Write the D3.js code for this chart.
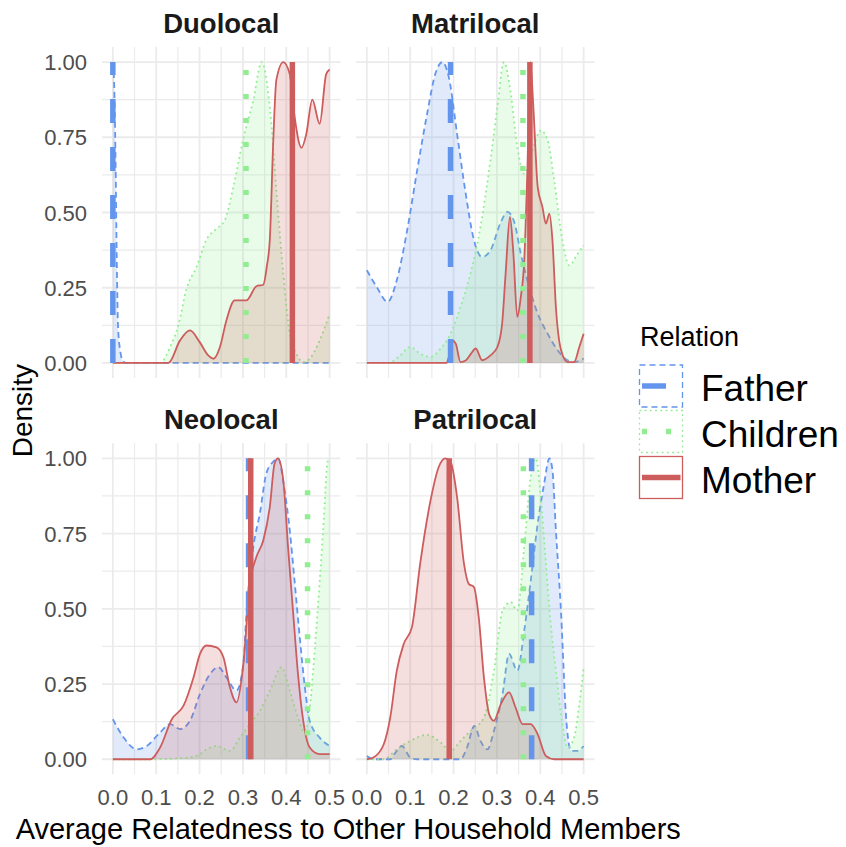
<!DOCTYPE html>
<html>
<head>
<meta charset="utf-8">
<script src="https://cdn.jsdelivr.net/npm/d3@7"></script>
<style>
  body { margin: 0; background: #fff; }
  svg { display: block; font-family: "Liberation Sans", Arial, sans-serif; }
</style>
</head>
<body>
<script>
// facets and groups
const panels = ["Duolocal", "Matrilocal", "Neolocal", "Patrilocal"];
const relations = ["Father", "Children", "Mother"];
const xTicks = [0, 0.1, 0.2, 0.3, 0.4, 0.5];
const yTicks = [0, 0.25, 0.5, 0.75, 1];

// scaled densities, [x, density]
const duolocalFather = [[0,1],[0.003,0.93],[0.006,0.7],[0.009,0.35],[0.012,0.12],[0.017,0.04],[0.022,0.01],[0.03,0],[0.1,0],[0.2,0],[0.3,0],[0.4,0],[0.5,0]];
const duolocalChildren = [[0,0],[0.109,0],[0.132,0.053],[0.151,0.125],[0.17,0.247],[0.193,0.319],[0.216,0.41],[0.239,0.446],[0.258,0.474],[0.278,0.585],[0.3,0.74],[0.324,0.873],[0.343,1.0],[0.362,0.85],[0.377,0.574],[0.393,0.297],[0.408,0.097],[0.423,0.031],[0.439,0.003],[0.454,0.014],[0.477,0.075],[0.5,0.164]];
const duolocalMother = [[0,0],[0.128,0],[0.155,0.075],[0.178,0.108],[0.2,0.07],[0.22,0.025],[0.232,0.014],[0.247,0.053],[0.262,0.142],[0.281,0.208],[0.308,0.208],[0.331,0.255],[0.347,0.26],[0.355,0.32],[0.362,0.41],[0.37,0.74],[0.377,0.94],[0.393,1.0],[0.408,0.96],[0.419,0.82],[0.435,0.715],[0.446,0.76],[0.46,0.875],[0.477,0.795],[0.492,0.96],[0.5,0.975]];

const matrilocalFather = [[0,0.308],[0.023,0.252],[0.048,0.203],[0.069,0.275],[0.093,0.441],[0.116,0.64],[0.139,0.828],[0.158,0.961],[0.174,1.0],[0.189,0.95],[0.208,0.762],[0.228,0.563],[0.247,0.408],[0.266,0.352],[0.285,0.374],[0.309,0.468],[0.324,0.502],[0.34,0.468],[0.355,0.363],[0.37,0.275],[0.394,0.164],[0.417,0.097],[0.44,0.042],[0.463,0.009],[0.478,0.003],[0.494,0.01],[0.5,0.015]];
const matrilocalChildren = [[0,0],[0.05,0],[0.077,0.025],[0.1,0.053],[0.123,0.031],[0.147,0.02],[0.17,0.048],[0.193,0.097],[0.216,0.186],[0.239,0.297],[0.262,0.452],[0.285,0.673],[0.301,0.85],[0.316,1.0],[0.332,0.895],[0.347,0.718],[0.363,0.629],[0.382,0.707],[0.401,0.773],[0.417,0.74],[0.432,0.607],[0.451,0.408],[0.467,0.324],[0.486,0.363],[0.5,0.391]];
const matrilocalMother = [[0,0],[0.184,0],[0.189,0.02],[0.197,0.075],[0.205,0.064],[0.216,0.003],[0.228,0.008],[0.24,0.03],[0.251,0.048],[0.266,0.009],[0.285,0.025],[0.301,0.053],[0.312,0.131],[0.32,0.297],[0.33,0.485],[0.338,0.363],[0.347,0.153],[0.355,0.219],[0.363,0.341],[0.37,0.629],[0.377,1.0],[0.384,0.85],[0.394,0.585],[0.405,0.518],[0.413,0.463],[0.421,0.496],[0.428,0.408],[0.436,0.186],[0.448,0.042],[0.463,0.003],[0.478,0.003],[0.49,0.053],[0.5,0.097]];

const neolocalFather = [[0,0.133],[0.025,0.072],[0.055,0.033],[0.078,0.044],[0.109,0.089],[0.132,0.117],[0.155,0.1],[0.178,0.128],[0.201,0.217],[0.224,0.283],[0.243,0.306],[0.262,0.272],[0.285,0.228],[0.301,0.317],[0.308,0.483],[0.324,0.706],[0.339,0.817],[0.354,0.95],[0.37,0.989],[0.381,1.0],[0.396,0.894],[0.408,0.761],[0.419,0.594],[0.431,0.406],[0.442,0.25],[0.454,0.128],[0.477,0.072],[0.5,0.044]];
const neolocalChildren = [[0,0],[0.094,0],[0.14,0.002],[0.193,0.011],[0.216,0.033],[0.239,0.044],[0.27,0.028],[0.293,0.072],[0.316,0.117],[0.339,0.161],[0.362,0.228],[0.389,0.306],[0.408,0.228],[0.427,0.139],[0.442,0.089],[0.454,0.172],[0.469,0.428],[0.485,0.761],[0.496,0.994],[0.5,1.0]];
const neolocalMother = [[0,0],[0.086,0],[0.109,0.039],[0.136,0.133],[0.163,0.178],[0.186,0.272],[0.201,0.35],[0.216,0.378],[0.239,0.372],[0.255,0.339],[0.27,0.239],[0.285,0.189],[0.301,0.317],[0.316,0.583],[0.331,0.672],[0.347,0.728],[0.362,0.839],[0.373,0.983],[0.381,1.0],[0.393,0.928],[0.404,0.706],[0.416,0.483],[0.427,0.283],[0.439,0.128],[0.454,0.039],[0.477,0.017],[0.5,0.017]];

const patrilocalFather = [[0,0.011],[0.015,0],[0.054,0],[0.066,0.022],[0.081,0.044],[0.1,0.006],[0.116,0],[0.216,0],[0.231,0.039],[0.248,0.111],[0.262,0.061],[0.278,0.033],[0.293,0.094],[0.313,0.217],[0.328,0.35],[0.347,0.294],[0.363,0.428],[0.378,0.594],[0.394,0.783],[0.409,0.917],[0.421,1.0],[0.428,0.961],[0.436,0.761],[0.448,0.483],[0.459,0.15],[0.471,0.028],[0.486,0.028],[0.5,0.044]];
const patrilocalChildren = [[0,0],[0.039,0],[0.069,0.033],[0.1,0.061],[0.139,0.081],[0.17,0.056],[0.193,0.028],[0.216,0.061],[0.239,0.094],[0.27,0.139],[0.293,0.294],[0.313,0.494],[0.332,0.522],[0.347,0.494],[0.363,0.706],[0.378,0.939],[0.39,1.0],[0.401,0.872],[0.413,0.65],[0.424,0.45],[0.436,0.294],[0.451,0.117],[0.463,0.039],[0.478,0.072],[0.49,0.183],[0.5,0.306]];
const patrilocalMother = [[0,0],[0.015,0.006],[0.039,0.05],[0.054,0.139],[0.069,0.294],[0.085,0.383],[0.104,0.439],[0.123,0.65],[0.147,0.861],[0.166,0.972],[0.181,1.0],[0.193,0.989],[0.208,0.872],[0.224,0.65],[0.235,0.583],[0.247,0.572],[0.258,0.472],[0.27,0.272],[0.282,0.15],[0.293,0.128],[0.309,0.183],[0.328,0.222],[0.343,0.172],[0.359,0.117],[0.378,0.117],[0.394,0.083],[0.413,0.011],[0.432,0],[0.5,0]];

// group means (vertical lines), in panel order
const fatherMeans = [0.0, 0.193, 0.313, 0.380];
const childrenMeans = [0.307, 0.36, 0.449, 0.361];
const motherMeans = [0.414, 0.376, 0.318, 0.19];

const densities = {
    Duolocal: [duolocalFather, duolocalChildren, duolocalMother],
    Matrilocal: [matrilocalFather, matrilocalChildren, matrilocalMother],
    Neolocal: [neolocalFather, neolocalChildren, neolocalMother],
    Patrilocal: [patrilocalFather, patrilocalChildren, patrilocalMother],
};
const means = [fatherMeans, childrenMeans, motherMeans];

const colors = ["#6495ED", "#90EE90", "#CD5C5C"];
const outlineDash = ["6,4", "1.8,3.4", null];
const vlineDash = ["24,24", "5,19", null];

const WIDTH = 846, HEIGHT = 847;
const panelW = 238.5, panelH = 331;
const panelLeft = [102, 356];
const panelTop = [47, 443.3];

const svg = d3.select("body").append("svg")
    .attr("width", WIDTH)
    .attr("height", HEIGHT);

panels.forEach((name, i) => {
    const col = i % 2, row = Math.floor(i / 2);
    const left = panelLeft[col], top = panelTop[row];

    const x = d3.scaleLinear().domain([-0.025, 0.525]).range([left, left + panelW]);
    const y = d3.scaleLinear().domain([-0.05, 1.05]).range([top + panelH, top]);

    const g = svg.append("g").attr("class", "panel");

    // grid: minor first, then major
    const xMinor = d3.range(0.05, 0.5, 0.1);
    const yMinor = d3.range(0.125, 1, 0.25);
    g.selectAll(".vminor").data(xMinor).enter().append("line")
        .attr("x1", d => x(d)).attr("x2", d => x(d))
        .attr("y1", top).attr("y2", top + panelH)
        .attr("stroke", "#EBEBEB").attr("stroke-width", 1.2);
    g.selectAll(".hminor").data(yMinor).enter().append("line")
        .attr("y1", d => y(d)).attr("y2", d => y(d))
        .attr("x1", left).attr("x2", left + panelW)
        .attr("stroke", "#EBEBEB").attr("stroke-width", 1.2);
    g.selectAll(".vmajor").data(xTicks).enter().append("line")
        .attr("x1", d => x(d)).attr("x2", d => x(d))
        .attr("y1", top).attr("y2", top + panelH)
        .attr("stroke", "#EBEBEB").attr("stroke-width", 1.8);
    g.selectAll(".hmajor").data(yTicks).enter().append("line")
        .attr("y1", d => y(d)).attr("y2", d => y(d))
        .attr("x1", left).attr("x2", left + panelW)
        .attr("stroke", "#EBEBEB").attr("stroke-width", 1.8);

    const area = d3.area()
        .x(d => x(d[0])).y0(y(0)).y1(d => y(d[1]))
        .curve(d3.curveMonotoneX);
    const line = d3.line()
        .x(d => x(d[0])).y(d => y(d[1]))
        .curve(d3.curveMonotoneX);

    densities[name].forEach((pts, k) => {
        g.append("path")
            .attr("d", area(pts))
            .attr("fill", colors[k])
            .attr("fill-opacity", 0.2);
        g.append("path")
            .attr("d", line(pts))
            .attr("fill", "none")
            .attr("stroke", colors[k])
            .attr("stroke-width", 1.8)
            .attr("stroke-dasharray", outlineDash[k]);
    });

    // mean lines, drawn from 0 up to 1
    means.forEach((m, k) => {
        g.append("line")
            .attr("x1", x(m[i])).attr("x2", x(m[i]))
            .attr("y1", y(0)).attr("y2", y(1))
            .attr("stroke", colors[k])
            .attr("stroke-width", 5.5)
            .attr("stroke-dasharray", vlineDash[k]);
    });

    // strip label
    svg.append("text")
        .attr("x", left + panelW / 2)
        .attr("y", top - 14)
        .attr("text-anchor", "middle")
        .attr("font-weight", "bold")
        .attr("font-size", 27.5)
        .attr("fill", "#1A1A1A")
        .text(name);

    // y tick labels on the left column
    if (col === 0) {
        svg.selectAll(null).data(yTicks).enter().append("text")
            .attr("x", left - 15)
            .attr("y", d => y(d) + 8)
            .attr("text-anchor", "end")
            .attr("font-size", 22)
            .attr("fill", "#4D4D4D")
            .text(d3.format(".2f"));
    }
    // x tick labels on the bottom row
    if (row === 1) {
        svg.selectAll(null).data(xTicks).enter().append("text")
            .attr("x", d => x(d))
            .attr("y", 805)
            .attr("text-anchor", "middle")
            .attr("font-size", 22)
            .attr("fill", "#4D4D4D")
            .text(d3.format(".1f"));
    }
});

// axis titles
svg.append("text")
    .attr("x", (panelLeft[0] + panelLeft[1] + panelW) / 2)
    .attr("y", 839)
    .attr("text-anchor", "middle")
    .attr("font-size", 29)
    .attr("fill", "#000")
    .text("Average Relatedness to Other Household Members");

svg.append("text")
    .attr("transform", `translate(32,${(panelTop[0] + panelTop[1] + panelH) / 2}) rotate(-90)`)
    .attr("text-anchor", "middle")
    .attr("font-size", 28)
    .attr("fill", "#000")
    .text("Density");

// legend
const legend = svg.append("g").attr("transform", "translate(639,0)");
legend.append("text")
    .attr("x", 1).attr("y", 346)
    .attr("font-size", 27)
    .attr("fill", "#000")
    .text("Relation");

const keyTop = [365, 410.5, 456.5];
relations.forEach((r, k) => {
    legend.append("rect")
        .attr("x", 0.5).attr("y", keyTop[k])
        .attr("width", 43).attr("height", 42)
        .attr("fill", "none")
        .attr("stroke", colors[k])
        .attr("stroke-width", 1.3)
        .attr("stroke-dasharray", outlineDash[k]);
    legend.append("line")
        .attr("x1", 3).attr("x2", 41.5)
        .attr("y1", keyTop[k] + 21).attr("y2", keyTop[k] + 21)
        .attr("stroke", colors[k])
        .attr("stroke-width", 5.5)
        .attr("stroke-dasharray", vlineDash[k]);
    legend.append("text")
        .attr("x", 62).attr("y", keyTop[k] + 36)
        .attr("font-size", 37)
        .attr("fill", "#000")
        .text(r);
});
</script>
</body>
</html>
